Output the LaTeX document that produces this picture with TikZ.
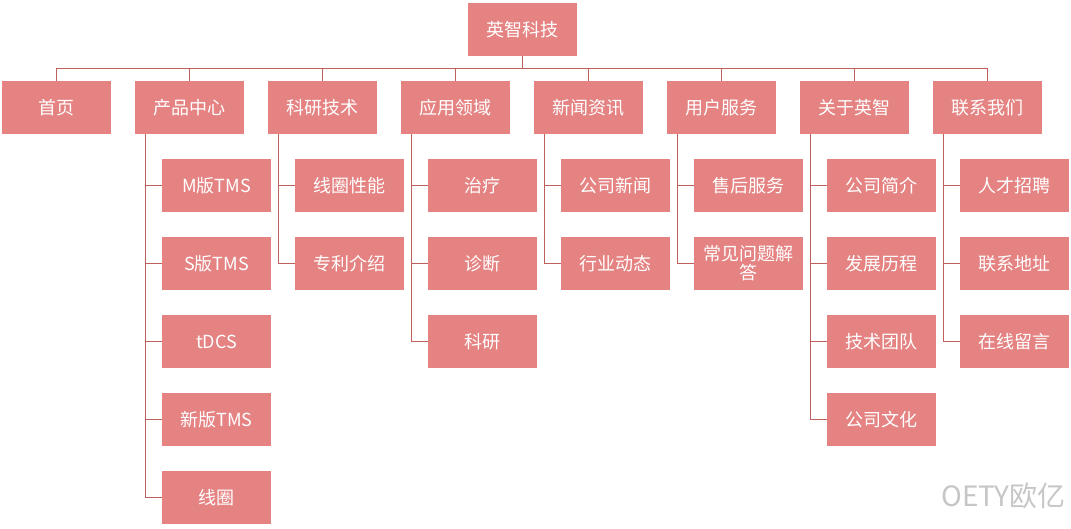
\documentclass[tikz,border=0pt]{standalone}
\usepackage{fontspec}
\setmainfont{Noto Sans CJK SC}
\begin{document}
\begin{tikzpicture}[x=1pt,y=-1pt,
  box/.style={fill=boxc,text=white,minimum width=109pt,minimum height=53pt,inner sep=1pt,font=\fontsize{18}{19}\selectfont,align=center,text width=105pt},
  ln/.style={draw=linec,line width=0.8pt}]
\definecolor{boxc}{HTML}{E58383}
\definecolor{linec}{HTML}{C0605D}
\useasboundingbox (0,0) rectangle (1071,528);
\node[box] (root) at (522.5,29.5) {英智科技};
\foreach \i/\t in {0/首页,1/产品中心,2/科研技术,3/应用领域,4/新闻资讯,5/用户服务,6/关于英智,7/联系我们}{
  \pgfmathsetmacro\cx{56.5+133*\i}
  \node[box] (p\i) at (\cx,107.5) {\t};
  \draw[ln] (root.south) -- ++(0,12) -| (p\i.north);
}
\newcommand\kid[3]{% parent index, row, text
  \pgfmathsetmacro\kx{56.5+133*#1+27}
  \pgfmathsetmacro\ky{107.5+78*#2}
  \node[box] (c#1#2) at (\kx,\ky) {#3};
  \draw[ln] ([xshift=11pt]p#1.south west) |- (c#1#2.west);
}
\kid{1}{1}{M版TMS}\kid{1}{2}{S版TMS}\kid{1}{3}{tDCS}\kid{1}{4}{新版TMS}\kid{1}{5}{线圈}
\kid{2}{1}{线圈性能}\kid{2}{2}{专利介绍}
\kid{3}{1}{治疗}\kid{3}{2}{诊断}\kid{3}{3}{科研}
\kid{4}{1}{公司新闻}\kid{4}{2}{行业动态}
\kid{5}{1}{售后服务}\kid{5}{2}{常见问题解\\答}
\kid{6}{1}{公司简介}\kid{6}{2}{发展历程}\kid{6}{3}{技术团队}\kid{6}{4}{公司文化}
\kid{7}{1}{人才招聘}\kid{7}{2}{联系地址}\kid{7}{3}{在线留言}
\node[text=gray!45,font=\fontsize{28}{30}\selectfont,anchor=east,inner sep=0pt] (wm) at (1066,496) {OETY欧亿};
\end{tikzpicture}
\end{document}
